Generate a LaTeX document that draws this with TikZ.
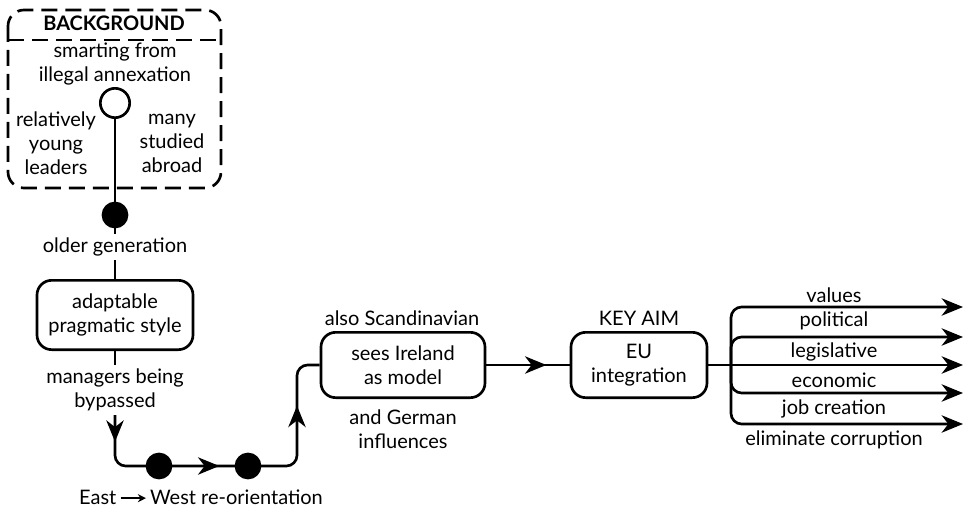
\documentclass[tikz,border=0pt]{standalone}
\usepackage{fontspec}
\setmainfont{Lato}
\usetikzlibrary{arrows.meta,decorations.markings}

\tikzset{every picture/.style={line width=2pt}}
\tikzset{
  flowtip/.tip={Stealth[length=16pt,width=13pt,inset=5pt]},
  txt/.style={align=center,inner sep=2pt,font=\fontsize{15}{18}\selectfont},
  stylebox/.style={txt,draw,rounded corners=11pt,inner sep=4pt},
  opendot/.style={draw,circle,fill=white,minimum size=22pt,inner sep=0pt},
  fulldot/.style={draw,circle,fill=black,minimum size=18pt,inner sep=0pt},
  bgline/.style={dash pattern=on 12pt off 6pt},
  flowpath/.style={postaction={decorate},decoration={markings,
    mark=at position 20pt with {\arrow{flowtip}},
    mark=at position 113pt with {\arrow{flowtip}},
    mark=at position 213pt with {\arrow{flowtip}}}},
  midarrow/.style={postaction={decorate},decoration={markings,
    mark=at position #1 with {\arrow{flowtip}}}}
}
\newcommand{\ewarrow}{\tikz[baseline=-0.6ex]\draw[line width=1.3pt,-{Stealth[length=6pt,width=6pt]}] (0pt,0pt) -- (19pt,0pt);}

\begin{document}
\begin{tikzpicture}[x=0.75pt,y=0.75pt,yscale=-1,xscale=1]
\useasboundingbox (0,0) rectangle (965,510);

%Shape: Background box
\draw[bgline,rounded corners=12pt] (8,10) rectangle (221,188);
\draw[bgline] (8,40) -- (221,40);

% Text Node
\node[txt,font=\fontsize{15}{18}\selectfont\bfseries] (bghead) at (114,23) {BACKGROUND};
% Text Node
\node[txt] (annex) at (115,64) {smarting from\\illegal annexation};
% Text Node
\node[txt] (young) at (56,143) {relatively\\young\\leaders};
% Text Node
\node[txt] (abroad) at (172,143) {many\\studied\\abroad};
% Text Node
\node[txt] (older) at (115,247) {older generation};
% Text Node
\node[txt] (managers) at (115,390) {managers being\\bypassed};
% Text Node
\node[txt] (eastwest) at (201,497) {East\,\ewarrow\,West re-orientation};

%Shape: Rounded boxes
\node[stylebox,minimum width=117pt,minimum height=52pt] (adapt) at (115,315) {adaptable\\pragmatic style};
\node[stylebox,minimum width=123pt,minimum height=49pt] (ireland) at (403,365) {sees Ireland\\as model};
\node[stylebox,minimum width=102pt,minimum height=49pt] (eu) at (639,365) {EU\\integration};

% Text Node
\node[txt] (scand) at (402,318) {also Scandinavian};
% Text Node
\node[txt] (german) at (403,429) {and German\\influences};
% Text Node
\node[txt] (keyaim) at (639,318) {KEY AIM};

% Connection
\node[opendot] (open) at (115,103) {};
\node[fulldot] (full) at (115,215) {};
\draw (open) -- (full) -- (older);
\draw (older) -- (adapt);
\draw (adapt) -- (managers);

% Connection
\draw[flowpath,rounded corners=8pt] (managers.south) -- (115,466) -- (297,466) -- (297,365) -- (ireland.west);
\node[fulldot] (dot1) at (159,466) {};
\node[fulldot] (dot2) at (248,466) {};

% Connection
\draw[midarrow=45pt] (ireland) -- (eu);

% Branches
\coordinate (split) at (731,365);
\foreach \y [count=\i] in {307,337,365,393,424}
  \coordinate (end\i) at (963,\y);
\draw[-{flowtip}] (eu) -- (end3);
\foreach \i in {1,2,4,5}
  \draw[rounded corners=8pt,-{flowtip}] (split) |- (end\i);

% Text Node
\foreach \t/\y [count=\i] in {values/295,political/321,legislative/352,economic/380,job creation/409,eliminate corruption/440}
  \node[txt] (aim\i) at (834,\y) {\t};

\end{tikzpicture}
\end{document}
